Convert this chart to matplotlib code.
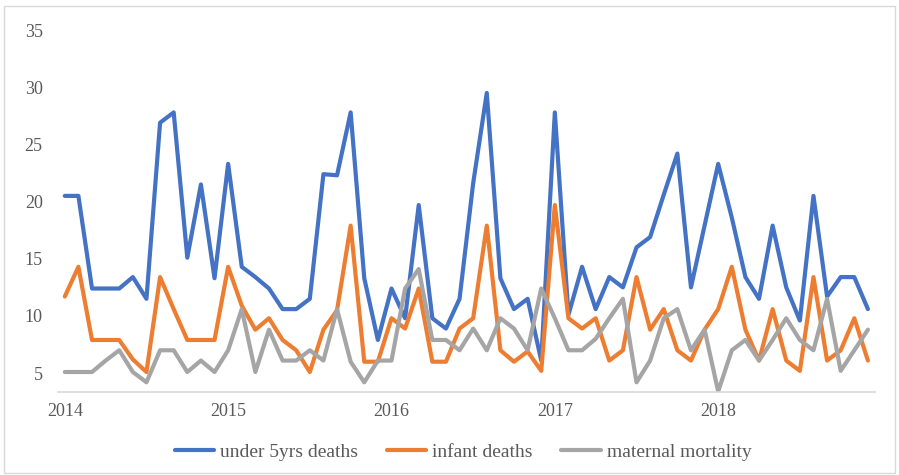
import matplotlib
matplotlib.use("Agg")
import matplotlib.pyplot as plt
from matplotlib.patches import Rectangle

# Monthly series, January 2014 to December 2018
months = list(range(60))

under5_deaths = [
    20.5, 20.5, 12.4, 12.4, 12.4, 13.4, 11.5, 26.9, 27.8, 15.1, 21.5, 13.3,
    23.3, 14.3, 13.4, 12.4, 10.6, 10.6, 11.5, 22.4, 22.3, 27.8, 13.3, 7.9,
    12.4, 9.8, 19.7, 9.8, 8.9, 11.5, 21.6, 29.5, 13.3, 10.6, 11.5, 6.1,
    27.8, 10.1, 14.3, 10.6, 13.4, 12.5, 16.0, 16.9, 20.6, 24.2, 12.5, 17.9,
    23.3, 18.6, 13.4, 11.5, 17.9, 12.5, 9.6, 20.5, 11.7, 13.4, 13.4, 10.6,
]

infant_deaths = [
    11.7, 14.3, 7.9, 7.9, 7.9, 6.2, 5.1, 13.4, 10.6, 7.9, 7.9, 7.9,
    14.3, 10.9, 8.8, 9.8, 7.9, 7.0, 5.1, 8.8, 10.5, 17.9, 6.0, 6.0,
    9.8, 8.9, 12.4, 6.0, 6.0, 8.9, 9.8, 17.9, 7.0, 6.0, 6.9, 5.2,
    19.7, 9.8, 8.9, 9.8, 6.1, 7.0, 13.4, 8.8, 10.6, 7.0, 6.1, 8.8,
    10.6, 14.3, 8.8, 6.1, 10.6, 6.1, 5.2, 13.4, 6.1, 7.0, 9.8, 6.1,
]

maternal_mortality = [
    5.1, 5.1, 5.1, 6.1, 7.0, 5.1, 4.2, 7.0, 7.0, 5.1, 6.1, 5.1,
    7.0, 10.6, 5.1, 8.8, 6.1, 6.1, 7.0, 6.1, 10.6, 6.0, 4.2, 6.1,
    6.1, 12.4, 14.1, 7.9, 7.9, 7.0, 8.9, 7.0, 9.8, 8.9, 7.0, 12.4,
    9.8, 7.0, 7.0, 8.0, 9.8, 11.5, 4.2, 6.1, 9.8, 10.6, 7.0, 8.8,
    3.4, 7.0, 7.9, 6.1, 7.9, 9.8, 7.9, 7.0, 11.5, 5.2, 7.0, 8.8,
]

year_labels = ["2014", "2015", "2016", "2017", "2018"]
year_positions = [0, 12, 24, 36, 48]

series = [
    ("under 5yrs deaths", under5_deaths, "#4472C4"),
    ("infant deaths", infant_deaths, "#ED7D31"),
    ("maternal mortality", maternal_mortality, "#A5A5A5"),
]

plt.rcParams["font.family"] = ["Liberation Serif", "DejaVu Serif"]

fig = plt.figure(figsize=(8.99, 4.75), dpi=100)
ax = fig.add_axes([0.0645, 0.1747, 0.9085, 0.762])

for name, values, color in series:
    ax.plot(months, values, color=color, lw=3.0, label=name,
            solid_joinstyle="round", solid_capstyle="round")

ax.set_xlim(-0.5, 59.5)
ax.set_ylim(3.35, 35)
ax.set_yticks([5, 10, 15, 20, 25, 30, 35])
ax.set_xticks(year_positions)
ax.set_xticklabels(year_labels)

for side in ("top", "right", "left"):
    ax.spines[side].set_visible(False)
ax.spines["bottom"].set_color("#D9D9D9")
ax.spines["bottom"].set_linewidth(1.2)

ax.tick_params(axis="both", length=0, labelsize=13, colors="#595959")
ax.tick_params(axis="y", pad=11)
ax.tick_params(axis="x", pad=8)

fig.legend(loc="center", bbox_to_anchor=(0.515, 0.048), ncol=3,
           frameon=False, fontsize=14, handlelength=2.05, columnspacing=1.45,
           handletextpad=0.3, labelcolor="#595959")

# thin frame around the whole chart
fig.patches.append(Rectangle((0.005, 0.005), 0.99, 0.982, transform=fig.transFigure,
                             fill=False, edgecolor="#D9D9D9", lw=1.0))

fig.savefig("out.png", dpi=100)
